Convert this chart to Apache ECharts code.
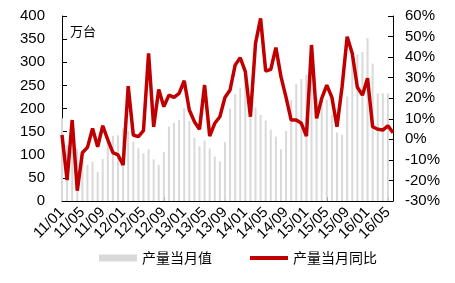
<!DOCTYPE html>
<html>
<head>
<meta charset="utf-8">
<script src="https://cdn.jsdelivr.net/npm/echarts@6/dist/echarts.min.js"></script>
<style>html,body{margin:0;padding:0;background:#fff}#c{width:455px;height:283px}</style>
</head>
<body>
<div id="c"></div>
<script>
var months = [
 "11/01","11/02","11/03","11/04","11/05","11/06","11/07","11/08","11/09","11/10","11/11","11/12",
 "12/01","12/02","12/03","12/04","12/05","12/06","12/07","12/08","12/09","12/10","12/11","12/12",
 "13/01","13/02","13/03","13/04","13/05","13/06","13/07","13/08","13/09","13/10","13/11","13/12",
 "14/01","14/02","14/03","14/04","14/05","14/06","14/07","14/08","14/09","14/10","14/11","14/12",
 "15/01","15/02","15/03","15/04","15/05","15/06","15/07","15/08","15/09","15/10","15/11","15/12",
 "16/01","16/02","16/03","16/04","16/05","16/06"];
var output = [
 179,121,125,113,99,78,85,63,91,132,141,142,
 157,152,128,114,103,112,90,78,106,161,169,175,
 201,173,137,118,131,114,96,86,127,200,231,244,
 268,192,202,186,174,154,139,112,151,218,253,264,
 273,280,224,223,219,186,148,143,226,309,317,322,
 352,297,233,233,233,null];
var yoy = [
 2.1,-19.8,9.4,-25,-6.5,-3.9,5.3,-3.6,6.6,-0.3,-6.5,-7.6,
 -12.5,25.9,2.1,1.3,4.2,41.8,6.1,24.3,15.9,21.5,20.4,22.4,
 28.5,14.3,8.6,4.9,26.4,1.6,7.8,11,20.4,24,36.1,39.7,
 32.9,11,46.7,58.8,33.2,34,44.6,30.5,20.4,9.4,9.4,7.8,
 1.6,45.9,10.2,19.9,26.4,20.4,6.1,25.6,49.9,41.8,25.3,21.5,
 29.7,6.1,4.9,4.5,6.6,3.2];
var seriesNames = ["产量当月值","产量当月同比"];
var unitLabel = "万台";

var font = "'Liberation Sans', Arial, sans-serif";
var cjk = "'Noto Sans CJK SC', sans-serif";
var legendText = {fontFamily: cjk, fontSize: 14, color: '#000'};
var chart = echarts.init(document.getElementById('c'), null, {renderer:'canvas'});
chart.setOption({
  animation: false,
  backgroundColor: '#fff',
  grid: {left: 62, right: 62, top: 16, bottom: 82, containLabel: false},
  legend: [{
    left: 99, top: 251, padding: 0, itemWidth: 38, itemHeight: 7, itemGap: 5,
    textStyle: legendText,
    data: [{name: seriesNames[0], icon: 'rect'}]
  }, {
    left: 250, top: 251, padding: 0, itemWidth: 38, itemHeight: 4, itemGap: 5,
    textStyle: legendText,
    data: [{name: seriesNames[1], icon: 'rect'}]
  }],
  graphic: [{type: 'text', left: 70, top: 25, style: {text: unitLabel, font: '13px ' + cjk, fill: '#000'}}],
  xAxis: {
    type: 'category', data: months, boundaryGap: false,
    axisLine: {lineStyle: {color: '#000', width: 1}},
    axisTick: {inside: true, length: 4, interval: 3, lineStyle: {color: '#000'}},
    axisLabel: {
      interval: 0,
      formatter: function (v, i) { return i % 4 === 0 ? v : ''; },
      showMinLabel: true, showMaxLabel: true, hideOverlap: false,
      rotate: 45, fontSize: 15, fontFamily: font, color: '#000', margin: 9
    },
    splitLine: {show: false}
  },
  yAxis: [{
    type: 'value', min: 0, max: 400, interval: 50, position: 'left',
    axisLine: {show: true, lineStyle: {color: '#000', width: 1}},
    axisTick: {show: true, inside: true, length: 5, lineStyle: {color: '#000'}},
    axisLabel: {fontSize: 15, fontFamily: font, color: '#000', margin: 17},
    splitLine: {show: false}
  }, {
    type: 'value', min: -30, max: 60, interval: 10, position: 'right',
    axisLine: {show: true, lineStyle: {color: '#000', width: 1}},
    axisTick: {show: true, inside: true, length: 5, lineStyle: {color: '#000'}},
    axisLabel: {fontSize: 15, fontFamily: font, color: '#000', margin: 12, formatter: '{value}%'},
    splitLine: {show: false}
  }],
  series: [{
    name: seriesNames[0], type: 'bar', data: output, yAxisIndex: 0,
    barWidth: 2, itemStyle: {color: '#d9d9d9'}
  }, {
    name: seriesNames[1], type: 'line', data: yoy, yAxisIndex: 1,
    symbol: 'none', showSymbol: false,
    lineStyle: {color: '#c00000', width: 3.5}, itemStyle: {color: '#c00000'}
  }]
});
</script>
</body>
</html>
